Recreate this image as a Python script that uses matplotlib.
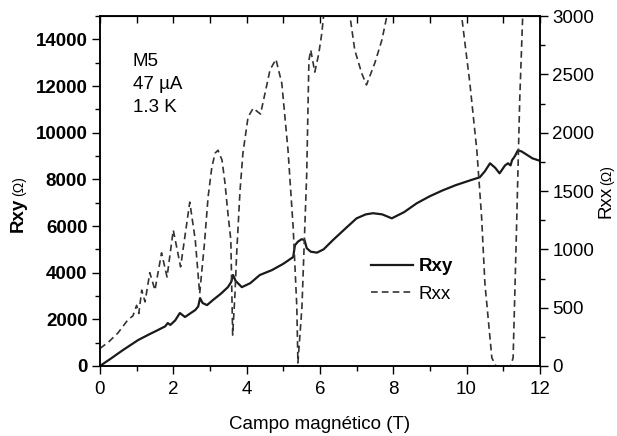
import matplotlib
matplotlib.use('Agg')
import matplotlib.pyplot as plt
from matplotlib.ticker import MultipleLocator

plt.rcParams['font.family'] = ['Liberation Sans', 'DejaVu Sans']

# Resistencia Hall (Rxy) frente al campo
campo_xy = [0, 0.3, 0.63, 1.04, 1.31, 1.58, 1.78, 1.85, 1.92, 2.05, 2.18, 2.32,
            2.6, 2.68, 2.73, 2.8, 2.92, 3.1, 3.3, 3.49, 3.58, 3.63, 3.7, 3.87,
            4.1, 4.36, 4.69, 5.0, 5.27, 5.32, 5.4, 5.5, 5.58, 5.64, 5.75, 5.92,
            6.1, 6.35, 6.7, 7.0, 7.25, 7.45, 7.7, 7.96, 8.3, 8.64, 9.0, 9.35,
            9.7, 10.1, 10.36, 10.5, 10.64, 10.78, 10.9, 11.05, 11.13, 11.2,
            11.24, 11.32, 11.4, 11.5, 11.67, 11.8, 12.0]
rxy = [0, 320, 685, 1110, 1330, 1540, 1700, 1840, 1760, 1950, 2270, 2100,
       2400, 2550, 2910, 2700, 2610, 2850, 3100, 3380, 3600, 3900, 3650, 3380,
       3550, 3900, 4110, 4380, 4670, 5180, 5330, 5435, 5400, 5050, 4900, 4860,
       5000, 5390, 5900, 6330, 6500, 6550, 6500, 6330, 6600, 6975, 7280, 7530,
       7750, 7960, 8090, 8350, 8690, 8500, 8260, 8600, 8690, 8600,
       8820, 9000, 9245, 9200, 9030, 8900, 8800]

# Resistencia longitudinal (Rxx)
campo_xx = [0, 0.25, 0.49, 0.76, 0.9, 1.0, 1.06, 1.14, 1.23, 1.36, 1.5, 1.68,
            1.83, 2.0, 2.2, 2.45, 2.6, 2.72, 2.85, 2.95, 3.05, 3.14, 3.22, 3.33,
            3.41, 3.49, 3.57, 3.62, 3.68, 3.73, 3.82, 3.9, 4.04, 4.18, 4.38,
            4.64, 4.8, 4.96, 5.13, 5.27, 5.37, 5.40, 5.51, 5.64, 5.7, 5.75,
            5.86, 5.97, 6.05, 6.1, 6.4, 6.7, 6.82, 6.95, 7.14, 7.27, 7.5, 7.69,
            7.82, 8.2, 8.8, 9.4, 9.87, 10.09, 10.28, 10.41, 10.5, 10.69, 10.8,
            11.0, 11.2, 11.27, 11.36, 11.45, 11.53, 11.7, 12.0]
rxx = [150, 210, 283, 395, 430, 520, 450, 650, 550, 800, 650, 970,
       763, 1165, 850, 1405, 1080, 620, 1050, 1450, 1700, 1825, 1850, 1765,
       1570, 1310, 1080, 265, 600, 970, 1500, 1825, 2135, 2210, 2160,
       2540, 2630, 2425, 1850, 1190, 506, 26, 506, 1650, 2620, 2710,
       2520, 2680, 2850, 3000, 3400, 3300, 3000, 2710, 2510, 2410, 2600, 2795,
       2990, 3500, 3900, 3600, 2990, 2425, 1850, 1280, 710, 70, 0,
       0, 0, 70, 1140, 2280, 2990, 3600, 4200]

fs = 13.5

fig = plt.figure(figsize=(6.17, 4.36), dpi=100)
ax = fig.add_axes([0.162, 0.1606, 0.713, 0.8024])
ax2 = ax.twinx()

ax.plot(campo_xy, rxy, color='#1a1a1a', lw=1.6, label='Rxy')
ax2.plot(campo_xx, rxx, color='#333333', lw=1.2, dashes=(4, 2.5), label='Rxx')

ax.set_xlim(0, 12)
ax.set_ylim(0, 15000)
ax2.set_ylim(0, 3000)

ax.xaxis.set_major_locator(MultipleLocator(2))
ax.xaxis.set_minor_locator(MultipleLocator(1))
ax.yaxis.set_major_locator(MultipleLocator(2000))
ax.yaxis.set_minor_locator(MultipleLocator(1000))
ax2.yaxis.set_major_locator(MultipleLocator(500))
ax2.yaxis.set_minor_locator(MultipleLocator(250))

ax.tick_params(which='major', direction='out', length=6, width=1, labelsize=fs, pad=3)
ax.tick_params(axis='x', which='major', pad=5)
ax.tick_params(which='minor', direction='out', length=3.5, width=1)
ax2.tick_params(which='major', direction='out', length=6, width=1, labelsize=fs, pad=3)
ax2.tick_params(which='minor', direction='out', length=3.5, width=1)
for lbl in ax.get_yticklabels():
    lbl.set_fontweight('bold')

# marcas interiores en el borde superior
top = ax.secondary_xaxis('top')
top.xaxis.set_major_locator(MultipleLocator(1))
top.tick_params(direction='in', length=5, width=1, labeltop=False)

for a in (ax, ax2):
    for s in a.spines.values():
        s.set_linewidth(1.1)

ax.set_xlabel('Campo magnético (T)', fontsize=fs, labelpad=13)

# etiquetas de los ejes y: nombre + unidad en tamaño menor
fig.text(0.029, 0.507, 'Rxy', rotation=90, fontsize=fs, fontweight='bold',
         ha='center', va='center')
fig.text(0.031, 0.573, '(Ω)', rotation=90, fontsize=10, ha='center', va='center')
fig.text(0.982, 0.537, 'Rxx', rotation=90, fontsize=fs, ha='center', va='center')
fig.text(0.984, 0.599, '(Ω)', rotation=90, fontsize=10, ha='center', va='center')

ax.text(0.075, 0.895, 'M5\n47 µA\n1.3 K', transform=ax.transAxes,
        fontsize=fs, va='top', ha='left', linespacing=1.45)

h1, l1 = ax.get_legend_handles_labels()
h2, l2 = ax2.get_legend_handles_labels()
leg = ax2.legend(h1 + h2, l1 + l2, loc='upper left', bbox_to_anchor=(0.6, 0.33),
                 frameon=False, fontsize=fs, handlelength=2.2, handletextpad=0.3,
                 labelspacing=0.55, borderaxespad=0)
leg.get_texts()[0].set_fontweight('bold')

fig.savefig('out.png', dpi=100)
